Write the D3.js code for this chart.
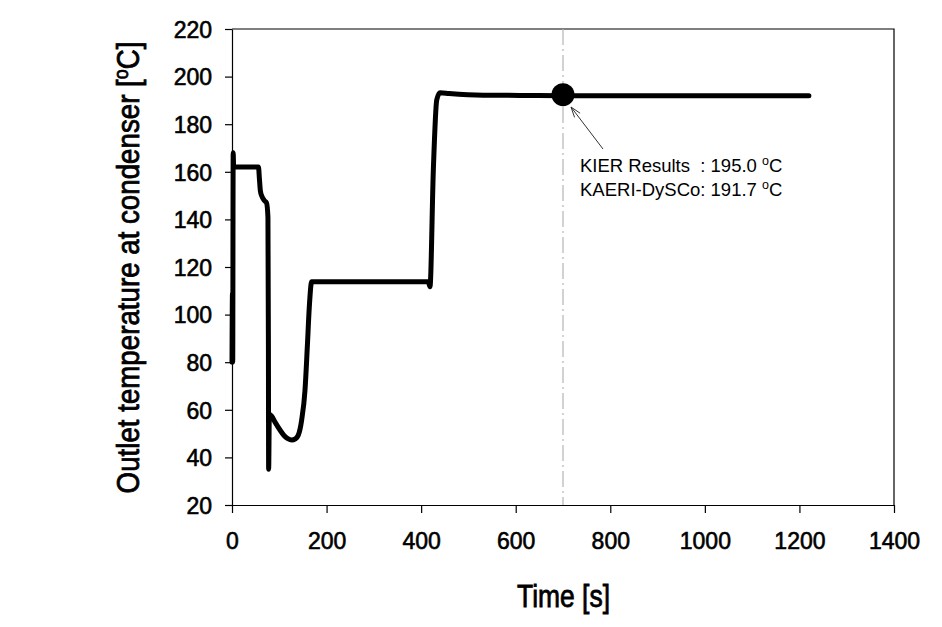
<!DOCTYPE html>
<html>
<head>
<meta charset="utf-8">
<script src="https://cdn.jsdelivr.net/npm/d3@7"></script>
<style>
  html, body { margin: 0; padding: 0; background: #fff; }
  svg { display: block; }
</style>
</head>
<body>
<svg id="chart" width="942" height="627"></svg>
<script>
// ---- data ----
const timeValues = [0, 1, 1.5, 2.5, 3.5, 6, 30, 56, 58, 60, 63, 68, 73, 76, 77, 77.5, 79, 84, 92, 101.5, 110, 118, 126.2, 134, 140.3, 147.3, 154.4, 159.3, 163.5, 168.5, 200, 300, 415, 418.7, 425.8, 433, 440, 459, 531, 609, 700, 800, 900, 1000, 1100, 1220];
const tempValues = [80, 109, 80, 168, 162, 162, 162, 162, 157, 152, 149.8, 148, 147, 141, 88, 35, 58, 57.3, 54.5, 51.5, 49.2, 47.9, 47.3, 47.8, 49.4, 55.7, 68.3, 86.5, 103.3, 113.8, 113.8, 113.8, 113.8, 111.7, 160.8, 190.2, 193.2, 192.9, 192.2, 192.1, 192.0, 192.0, 192.0, 192.0, 192.0, 192.0];
const xTicks = [0, 200, 400, 600, 800, 1000, 1200, 1400];
const yTicks = [20, 40, 60, 80, 100, 120, 140, 160, 180, 200, 220];
const markerPoint = [700, 192.4];
const refTime = 700;
const annotationLines = ["KIER Results  : 195.0 ", "KAERI-DySCo: 191.7 "];

// ---- layout ----
const svg = d3.select("#chart");
const mLeft = 232, mRight = 894, mTop = 29, mBottom = 505;
const x = d3.scaleLinear().domain([0, 1400]).range([mLeft, mRight]);
const y = d3.scaleLinear().domain([20, 220]).range([mBottom, mTop]);

const font = "'Liberation Sans Narrow', 'Liberation Sans', Arial, sans-serif";

// frame (top & right)
svg.append("path")
  .attr("d", `M${mLeft},${mTop}H${mRight}V${mBottom}`)
  .attr("fill", "none").attr("stroke", "#000").attr("stroke-width", 1.2);

// reference dash-dot line
svg.append("line")
  .attr("x1", x(refTime)).attr("x2", x(refTime))
  .attr("y1", y(220)).attr("y2", y(20))
  .attr("stroke", "#b5b5b5").attr("stroke-width", 1.2)
  .attr("stroke-dasharray", "16,4,2,4");

// axes
const xAxis = d3.axisBottom(x).tickValues(xTicks).tickSize(8).tickSizeOuter(0).tickFormat(d3.format("d"));
const yAxis = d3.axisLeft(y).tickValues(yTicks).tickSize(7).tickSizeOuter(0).tickFormat(d3.format("d"));

const gx = svg.append("g").attr("transform", `translate(0,${mBottom})`).call(xAxis);
const gy = svg.append("g").attr("transform", `translate(${mLeft},0)`).call(yAxis);
[gx, gy].forEach(g => {
  g.select(".domain").attr("stroke", "#000").attr("stroke-width", 1.2);
  g.selectAll(".tick line").attr("stroke", "#000").attr("stroke-width", 1.2);
  g.selectAll(".tick text")
    .attr("fill", "#000")
    .attr("stroke", "#000").attr("stroke-width", 0.6)
    .style("font-family", "'Liberation Sans', Arial, sans-serif")
    .style("font-size", "23px");
});
gx.selectAll(".tick text").attr("dy", null).attr("y", 44);
gy.selectAll(".tick text").attr("x", -20).attr("dy", "0.36em");

// data line
const line = d3.line()
  .x((d, i) => x(timeValues[i]))
  .y((d, i) => y(tempValues[i]))
  .curve(d3.curveMonotoneX);
svg.append("path")
  .datum(tempValues)
  .attr("d", line)
  .attr("fill", "none")
  .attr("stroke", "#000")
  .attr("stroke-width", 5)
  .attr("stroke-linejoin", "round")
  .attr("stroke-linecap", "round");

// marker point
svg.append("circle")
  .attr("cx", x(markerPoint[0])).attr("cy", y(markerPoint[1]))
  .attr("r", 11.5).attr("fill", "#000");

// arrow
const tip = [571, 107], tail = [603, 149];
svg.append("line")
  .attr("x1", tail[0]).attr("y1", tail[1]).attr("x2", tip[0]).attr("y2", tip[1])
  .attr("stroke", "#333").attr("stroke-width", 1);
const ang = Math.atan2(tail[1] - tip[1], tail[0] - tip[0]);
const hl = 11, ha = 0.32;
svg.append("path")
  .attr("d", `M${tip[0] + hl * Math.cos(ang - ha)},${tip[1] + hl * Math.sin(ang - ha)}L${tip[0]},${tip[1]}L${tip[0] + hl * Math.cos(ang + ha)},${tip[1] + hl * Math.sin(ang + ha)}`)
  .attr("fill", "none").attr("stroke", "#333").attr("stroke-width", 1);

// annotation text
annotationLines.forEach((s, i) => {
  const t = svg.append("text")
    .attr("x", 580).attr("y", 172 + i * 24)
    .style("font-family", "'Liberation Sans', Arial, sans-serif")
    .style("font-size", "18.5px")
    .attr("fill", "#000")
    .style("white-space", "pre");
  t.append("tspan").text(s);
  t.append("tspan").attr("dy", -7).style("font-size", "12.5px").text("o");
  t.append("tspan").attr("dy", 7).text("C");
});

// axis titles
function fitWidth(sel, target, cx, cy, rotate) {
  const w = sel.node().getComputedTextLength();
  const k = target / w;
  sel.attr("transform", `translate(${cx},${cy}) rotate(${rotate}) scale(${k},1)`);
}

const xTitle = svg.append("text")
  .attr("text-anchor", "middle")
  .style("font-family", font).style("font-size", "31px")
  .attr("fill", "#000").attr("stroke", "#000").attr("stroke-width", 0.8)
  .text("Time [s]");
fitWidth(xTitle, 93, 563.5, 607, 0);

const yTitle = svg.append("text")
  .attr("text-anchor", "middle")
  .style("font-family", font).style("font-size", "31px")
  .attr("fill", "#000").attr("stroke", "#000").attr("stroke-width", 0.8);
yTitle.append("tspan").text("Outlet temperature at condenser [");
yTitle.append("tspan").attr("dy", -11).style("font-size", "20px").text("o");
yTitle.append("tspan").attr("dy", 11).text("C]");
fitWidth(yTitle, 452, 139, 267.5, -90);
</script>
</body>
</html>
